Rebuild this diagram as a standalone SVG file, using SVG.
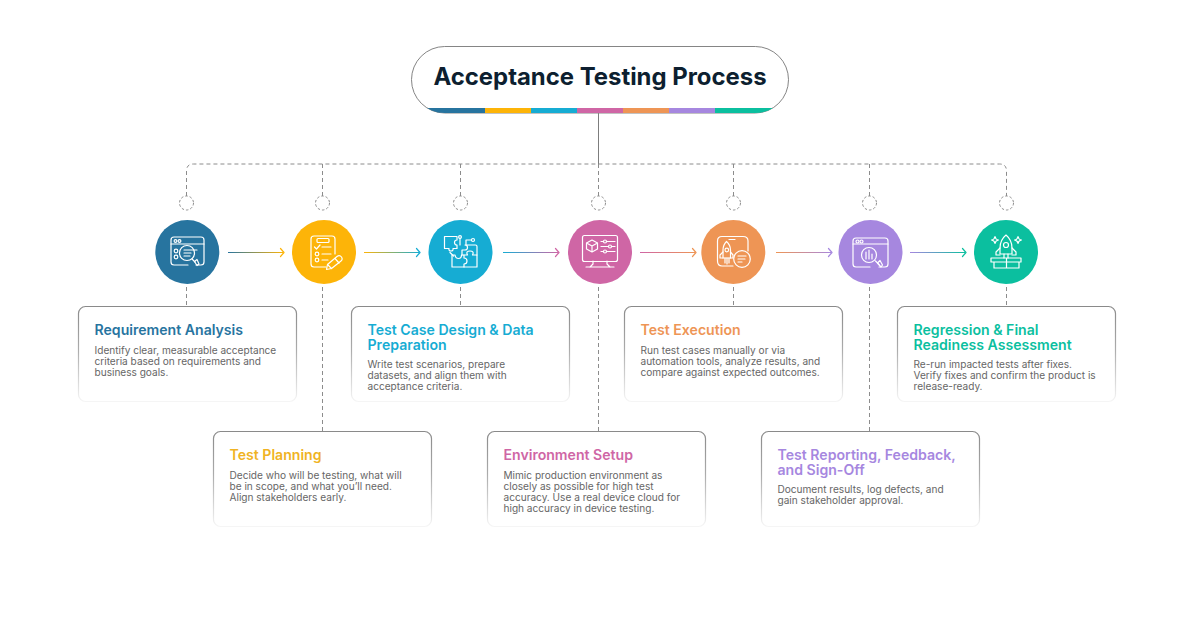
<svg xmlns="http://www.w3.org/2000/svg" width="1200" height="630" viewBox="0 0 1200 630">
<style>
text{font-family:Inter,"Liberation Sans",sans-serif}
.title{font-size:23.9px;font-weight:700;fill:#0d1f30;text-anchor:middle}
.h{font-size:14.1px;font-weight:600}
.b{font-size:10.08px;font-weight:400;fill:#666}
.card{fill:#fff;stroke:url(#cardStroke);stroke-width:1.2}
.dash{fill:none;stroke:#8c8c8c;stroke-width:1;stroke-dasharray:4 3}
.dot{fill:none;stroke:#8c8c8c;stroke-width:1;stroke-dasharray:2.500 2}
.ic{fill:none;stroke:#fff;stroke-width:1.2;stroke-linecap:round;stroke-linejoin:round}
.arr{fill:none;stroke-width:1.2}
.tip{fill:none;stroke-width:1.2;stroke-linecap:round;stroke-linejoin:round}
</style>
<defs>
<linearGradient id="cardStroke" x1="0" y1="0" x2="0" y2="1"><stop offset="0" stop-color="#8a8a8a"/><stop offset="0.45" stop-color="#ababab"/><stop offset="1" stop-color="#f5f5f5"/></linearGradient>
<linearGradient id="a1" gradientUnits="userSpaceOnUse" x1="228" y1="0" x2="284" y2="0"><stop offset="0" stop-color="#27749f"/><stop offset="1" stop-color="#fdb408"/></linearGradient>
<linearGradient id="a2" gradientUnits="userSpaceOnUse" x1="364" y1="0" x2="420" y2="0"><stop offset="0" stop-color="#fdb408"/><stop offset="1" stop-color="#16acd3"/></linearGradient>
<linearGradient id="a3" gradientUnits="userSpaceOnUse" x1="503" y1="0" x2="559" y2="0"><stop offset="0" stop-color="#16acd3"/><stop offset="1" stop-color="#cf66a5"/></linearGradient>
<linearGradient id="a4" gradientUnits="userSpaceOnUse" x1="640" y1="0" x2="696" y2="0"><stop offset="0" stop-color="#cf66a5"/><stop offset="1" stop-color="#ee9555"/></linearGradient>
<linearGradient id="a5" gradientUnits="userSpaceOnUse" x1="776" y1="0" x2="832" y2="0"><stop offset="0" stop-color="#ee9555"/><stop offset="1" stop-color="#a687df"/></linearGradient>
<linearGradient id="a6" gradientUnits="userSpaceOnUse" x1="910" y1="0" x2="966" y2="0"><stop offset="0" stop-color="#a687df"/><stop offset="1" stop-color="#0bbf9f"/></linearGradient>
<clipPath id="pill"><rect x="411" y="46" width="378" height="67" rx="33.5"/></clipPath>
</defs>
<rect width="1200" height="630" fill="#fff"/>

<g id="connectors">
<path d="M598.500 113V164" fill="none" stroke="#7d7d7d" stroke-width="1"/>
<path class="dash" d="M186.500 196V171Q186.500 164 193.500 164H999.500Q1006.500 164 1006.500 171V196"/>
<path class="dash" d="M322.500 164V196M460.500 164V196M598.500 164V196M733.500 164V196M869.500 164V196"/>
<g class="dot">
<circle cx="186.500" cy="203" r="7"/><circle cx="322.500" cy="203" r="7"/><circle cx="460.500" cy="203" r="7"/><circle cx="598.500" cy="203" r="7"/><circle cx="733.500" cy="203" r="7"/><circle cx="869.500" cy="203" r="7"/><circle cx="1006.500" cy="203" r="7"/>
</g>
<path class="dash" d="M186.500 287V306M322.500 287V431M460.500 287V306M598.500 287V431M733.500 287V306M869.500 287V431M1006.500 287V306"/>
<path class="arr" stroke="url(#a1)" d="M228 252.500H283"/><path class="tip" stroke="#fdb408" d="M280.500 248.500L284 252.500L280.500 256.500"/>
<path class="arr" stroke="url(#a2)" d="M364 252.500H419"/><path class="tip" stroke="#16acd3" d="M416.500 248.500L420 252.500L416.500 256.500"/>
<path class="arr" stroke="url(#a3)" d="M503 252.500H558"/><path class="tip" stroke="#cf66a5" d="M555.500 248.500L559 252.500L555.500 256.500"/>
<path class="arr" stroke="url(#a4)" d="M640 252.500H695"/><path class="tip" stroke="#ee9555" d="M692.500 248.500L696 252.500L692.500 256.500"/>
<path class="arr" stroke="url(#a5)" d="M776 252.500H831"/><path class="tip" stroke="#a687df" d="M828.500 248.500L832 252.500L828.500 256.500"/>
<path class="arr" stroke="url(#a6)" d="M910 252.500H965"/><path class="tip" stroke="#0bbf9f" d="M962.500 248.500L966 252.500L962.500 256.500"/>
</g>

<g id="title">
<rect x="411.500" y="46.500" width="377" height="66.500" rx="33.200" fill="#fff" stroke="#858585" stroke-width="1"/>
<g clip-path="url(#pill)">
<rect x="411" y="108" width="74" height="5" fill="#27749f"/>
<rect x="485" y="108" width="46" height="5" fill="#fdb408"/>
<rect x="531" y="108" width="46" height="5" fill="#16acd3"/>
<rect x="577" y="108" width="46" height="5" fill="#cf66a5"/>
<rect x="623" y="108" width="46" height="5" fill="#ee9555"/>
<rect x="669" y="108" width="46" height="5" fill="#a687df"/>
<rect x="715" y="108" width="74" height="5" fill="#0bbf9f"/>
</g>
<text class="title" x="600" y="84.500">Acceptance Testing Process</text>
</g>

<g id="step1">
<circle cx="187.300" cy="252" r="32" fill="#27749f"/>
<g class="ic">
<path d="M196 265H201Q204 265 204 262V240Q204 237 201 237H174Q171 237 171 240V262Q171 265 174 265H188"/>
<path d="M171 244H204"/><circle cx="175.500" cy="241" r="1.400"/><circle cx="179.500" cy="241" r="1.400"/>
<circle cx="176" cy="251" r="1.800"/><circle cx="176" cy="257" r="1.800"/>
<circle cx="187" cy="253" r="7.500"/>
<path d="M184 250H197M184 253H191M184 256H190M192 259L195 262"/>
<path d="M194.500 261.500L197 259.500L199 264L197 265.500Z"/>
</g>
</g>
<g id="step2">
<circle cx="324" cy="252" r="32" fill="#fdb408"/>
<g class="ic">
<path d="M326 267H314Q311 267 311 264V239Q311 236 314 236H332Q335 236 335 239V254"/>
<rect x="317" y="238.500" width="12" height="4" rx="1"/>
<path d="M314.500 247L316.500 249L320 245M322 247H331M322 254H331M322 260H328"/>
<circle cx="317" cy="254" r="1.800"/><circle cx="317" cy="260" r="1.800"/>
<path d="M326.500 269.500L327.500 264.500L337 256.500Q339.500 254.500 341.500 257Q343 259.500 341 261L331.500 268.500Z"/><path d="M335 258.500L339 263M327.500 264.500L331.500 268.500"/>
</g>
</g>
<g id="step3">
<circle cx="460.500" cy="252" r="32" fill="#16acd3"/>
<g class="ic">
<path d="M444.500 236.500H457V240Q454.500 240 454.500 242.500Q454.500 245 457 245V248.500H453Q453.500 251 451 251Q448.500 251 449 248.500H444.500Z"/>
<path d="M452 255H455Q455.500 258.500 458.500 258.500Q461.500 258.500 461.500 255H464V258Q467 258 467 261Q467 264 464 264V267H452Z"/>
<path d="M464 267H477V255H472.500Q474.500 251 470 251Q465.500 251 467.500 255H464"/>
<path d="M462 255V250H465Q467.500 250 467.500 247.500Q467.500 245 465 245H475.500Q477 245 477 246.500V255"/>
<path d="M460 238.500V245M466 245V240H471.500M450 252.500L453.500 256"/>
<circle cx="460" cy="237" r="1.400"/><circle cx="473" cy="240" r="1.500"/>
</g>
</g>
<g id="step4">
<circle cx="600" cy="252" r="32" fill="#cf66a5"/>
<g class="ic">
<rect x="582.500" y="235.500" width="35" height="26" rx="2"/>
<path d="M593 261V264L590 267M607 261V264L610 267M586 267H614"/>
<path d="M592 240L597.500 243V249L592 252L586.500 249V243ZM586.500 243L592 246L597.500 243M592 246V252"/>
<path d="M601 241.500H615M601 246.500H615M601 251.500H615"/>
<circle cx="605" cy="241.500" r="1.500" fill="#cf66a5"/><circle cx="610" cy="246.500" r="1.500" fill="#cf66a5"/><circle cx="605" cy="251.500" r="1.500" fill="#cf66a5"/>
</g>
</g>
<g id="step5">
<circle cx="733.300" cy="252" r="32" fill="#ee9555"/>
<g class="ic">
<path d="M733 266H722Q717.500 266 717.500 261V241Q717.500 236.500 722 236.500H743Q748 236.500 748 241V251"/>
<path d="M729 239.500H735"/>
<path d="M726.500 241.500Q730.500 245 730.500 250V258H723V250Q723 245 726.500 241.500Z"/>
<circle cx="726.800" cy="250" r="1.800"/>
<path d="M723 252L720 255V258H723M730.500 252L733 255V258H730.500M725 258V263M727 258V264M729 258V263"/>
<circle cx="742" cy="259" r="8.300" fill="#ee9555"/>
<path d="M738 256H746M738 259H745M738 262H742"/>
</g>
</g>
<g id="step6">
<circle cx="870.500" cy="252" r="32" fill="#a687df"/>
<g class="ic">
<path d="M879 267H885Q888 267 888 264V241Q888 238 885 238H856Q853 238 853 241V264Q853 267 856 267H870"/>
<path d="M853 244H888"/><circle cx="857.500" cy="241.500" r="1.500"/><circle cx="861.500" cy="241.500" r="1.500"/>
<circle cx="869" cy="255" r="7.500"/>
<path d="M866 259V252M869 259V250M872 259V254M875.500 261L879 264.500"/>
<path d="M877.500 263L880 260.500L882.500 265L881 267Z"/>
</g>
</g>
<g id="step7">
<circle cx="1006" cy="252" r="32" fill="#0bbf9f"/>
<g class="ic">
<path d="M1006 235Q1012 240 1012 248V254H1000V248Q1000 240 1006 235Z"/>
<circle cx="1006" cy="245" r="2.500"/>
<path d="M1000 248L996 252V255H1000M1012 248L1016 252V255H1012M1004 254V258M1008 254V258"/>
<path d="M995 236.500Q995.500 239.500 998.500 240Q995.500 240.500 995 243.500Q994.500 240.500 991.500 240Q994.500 239.500 995 236.500ZM1018 236.500Q1018.500 239.500 1021.500 240Q1018.500 240.500 1018 243.500Q1017.500 240.500 1014.500 240Q1017.500 239.500 1018 236.500Z"/>
<path d="M994 262V268H1019V262M991 258H1021V262H991ZM1006.500 258V268"/>
</g>
</g>

<g id="card1"><rect class="card" x="78.500" y="306.500" width="218" height="95" rx="7"/>
<text class="h" x="94.500" y="335" fill="#27749f">Requirement Analysis</text>
<text class="b" x="94.500" y="354">Identify clear, measurable acceptance</text><text class="b" x="94.500" y="365">criteria based on requirements and</text><text class="b" x="94.500" y="376">business goals.</text></g>
<g id="card2"><rect class="card" x="213.500" y="431.500" width="218" height="95" rx="7"/>
<text class="h" x="229.500" y="459.500" fill="#f0b323">Test Planning</text>
<text class="b" x="229.500" y="479">Decide who will be testing, what will</text><text class="b" x="229.500" y="490">be in scope, and what you’ll need.</text><text class="b" x="229.500" y="501">Align stakeholders early.</text></g>
<g id="card3"><rect class="card" x="351.500" y="306.500" width="218" height="95" rx="7"/>
<text class="h" x="367.500" y="335" fill="#16acd3">Test Case Design &amp; Data</text><text class="h" x="367.500" y="350" fill="#16acd3">Preparation</text>
<text class="b" x="367.500" y="368">Write test scenarios, prepare</text><text class="b" x="367.500" y="379">datasets, and align them with</text><text class="b" x="367.500" y="390">acceptance criteria.</text></g>
<g id="card4"><rect class="card" x="487.500" y="431.500" width="218" height="95" rx="7"/>
<text class="h" x="503.500" y="459.500" fill="#cf66a5">Environment Setup</text>
<text class="b" x="503.500" y="479">Mimic production environment as</text><text class="b" x="503.500" y="490">closely as possible for high test</text><text class="b" x="503.500" y="501">accuracy. Use a real device cloud for</text><text class="b" x="503.500" y="512">high accuracy in device testing.</text></g>
<g id="card5"><rect class="card" x="624.500" y="306.500" width="218" height="95" rx="7"/>
<text class="h" x="640.500" y="335" fill="#ee9555">Test Execution</text>
<text class="b" x="640.500" y="354">Run test cases manually or via</text><text class="b" x="640.500" y="365">automation tools, analyze results, and</text><text class="b" x="640.500" y="376">compare against expected outcomes.</text></g>
<g id="card6"><rect class="card" x="761.500" y="431.500" width="218" height="95" rx="7"/>
<text class="h" x="777.500" y="459.500" fill="#a687df">Test Reporting, Feedback,</text><text class="h" x="777.500" y="474.500" fill="#a687df">and Sign-Off</text>
<text class="b" x="777.500" y="493">Document results, log defects, and</text><text class="b" x="777.500" y="504">gain stakeholder approval.</text></g>
<g id="card7"><rect class="card" x="897.500" y="306.500" width="218" height="95" rx="7"/>
<text class="h" x="913.500" y="335" fill="#0bbf9f">Regression &amp; Final</text><text class="h" x="913.500" y="350" fill="#0bbf9f">Readiness Assessment</text>
<text class="b" x="913.500" y="368">Re-run impacted tests after fixes.</text><text class="b" x="913.500" y="379">Verify fixes and confirm the product is</text><text class="b" x="913.500" y="390">release-ready.</text></g>
</svg>
